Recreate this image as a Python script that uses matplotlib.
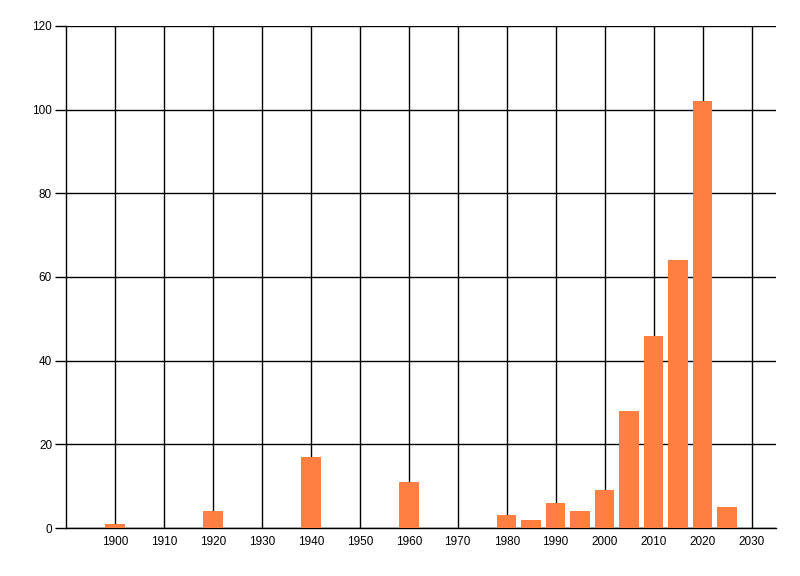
import matplotlib
matplotlib.use("Agg")
import matplotlib.pyplot as plt

years = [1900, 1920, 1940, 1960, 1980, 1985, 1990, 1995, 2000, 2005, 2010, 2015, 2020, 2025]
counts = [1, 4, 17, 11, 3, 2, 6, 4, 9, 28, 46, 64, 102, 5]
x_ticks = list(range(1900, 2031, 10))
y_ticks = list(range(0, 121, 20))

BAR_COLOR = "#FF7F42"

plt.rcParams['font.family'] = ['Liberation Sans', 'DejaVu Sans']

fig = plt.figure(figsize=(8, 5.76), dpi=100)
ax = fig.add_axes([0.0825, 0.0833, 0.8875, 0.8716])

ax.bar(years, counts, width=4, color=BAR_COLOR, zorder=3)

ax.set_xlim(1890, 2035)
ax.set_ylim(0, 120)
ax.set_xticks(x_ticks)
ax.set_yticks(y_ticks)
ax.grid(True, color='black', linewidth=1, zorder=0)
ax.set_axisbelow(True)

for s in ['top', 'right']:
    ax.spines[s].set_visible(False)
ax.spines['left'].set_linewidth(1)
ax.spines['bottom'].set_linewidth(1)

ax.tick_params(axis='x', length=0, pad=6, labelsize=8.5)
ax.tick_params(axis='y', length=8, width=1, pad=2, labelsize=8.5)

fig.savefig("out.png", dpi=100, facecolor='white')
